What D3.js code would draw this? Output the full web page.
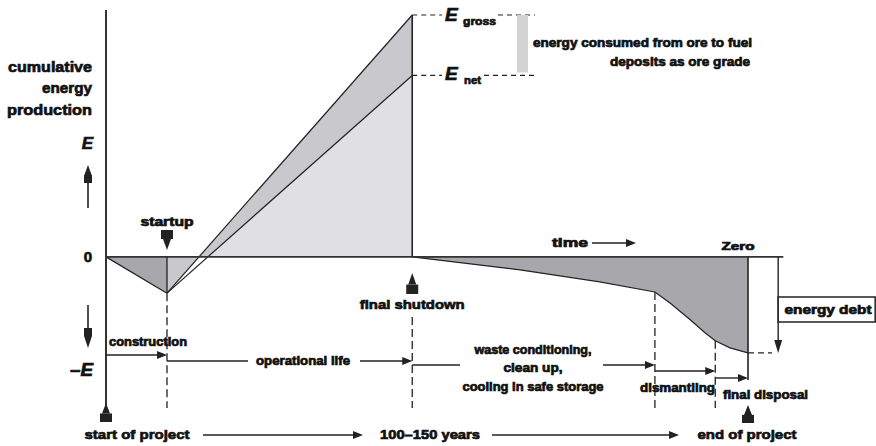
<!DOCTYPE html>
<html>
<head>
<meta charset="utf-8">
<script src="https://cdn.jsdelivr.net/npm/d3@7"></script>
<style>
  body { margin: 0; background: #fff; }
  svg text { font-family: "Liberation Sans", Arial, sans-serif; font-weight: bold; fill: #111; }
</style>
</head>
<body>
<div id="chart"></div>
<script>
// project phases (time in % of project life)
const phaseNames = ["start of project", "startup", "final shutdown", "dismantling", "final disposal", "end of project"];
const phaseTimes = [0, 9.5, 47.7, 85.5, 94.9, 100];

// construction: energy invested before startup
const constructionTimes = [0, 9.5];
const constructionE = [0, -15];

// operational life: gross and net cumulative energy
const operationTimes = [9.5, 47.7];
const grossE = [-15, 100];
const netE = [-15, 75];

// after shutdown: waste handling, dismantling, disposal
const debtTimes = [47.7, 64.5, 76.9, 85.5, 87.9, 91.0, 93.3, 94.9, 97.2, 100];
const debtE = [0, -5.4, -10.3, -14.5, -19.2, -26, -31.4, -34.7, -37.6, -39.7];

const zeroLineEnd = 105.5;
const debtMarker = 104.7;

const W = 876, H = 446;
const svg = d3.select("#chart").append("svg").attr("width", W).attr("height", H);

const x = d3.scaleLinear().domain([0, 100]).range([106, 748]);
const y = d3.scaleLinear().domain([-60, 100]).range([402, 15]);

const INK = "#222";
const DARK = "#a8a8ac";   // construction / energy debt
const MID = "#c9c9cd";    // gross band
const LIGHT = "#e0e0e3";  // net production

const zip = (ts, es) => ts.map((t, i) => [t, es[i]]);

// clip for the part above zero
svg.append("clipPath").attr("id", "above")
    .append("rect").attr("x", 0).attr("y", 0).attr("width", W).attr("height", y(0));

const area = d3.area().x(d => x(d[0])).y0(y(0)).y1(d => y(d[1]));
const line = d3.line().x(d => x(d[0])).y(d => y(d[1]));

// construction triangle
svg.append("path")
    .datum(zip(constructionTimes, constructionE))
    .attr("d", area).attr("fill", DARK);

// gross area (also covers the small triangle below zero after startup)
svg.append("path")
    .datum(zip(operationTimes, grossE))
    .attr("d", area).attr("fill", MID);

// net area above zero
svg.append("path")
    .datum(zip(operationTimes, netE))
    .attr("d", area).attr("fill", LIGHT)
    .attr("clip-path", "url(#above)");

// energy debt area
svg.append("path")
    .datum(zip(debtTimes, debtE))
    .attr("d", area).attr("fill", DARK);

// outlines
[zip(constructionTimes, constructionE), zip(operationTimes, grossE),
 zip(operationTimes, netE), zip(debtTimes, debtE)].forEach(pts => {
    svg.append("path").datum(pts).attr("d", line)
        .attr("fill", "none").attr("stroke", INK).attr("stroke-width", 1.2);
});

function seg(x1, y1, x2, y2, opts = {}) {
    return svg.append("line")
        .attr("x1", x1).attr("y1", y1).attr("x2", x2).attr("y2", y2)
        .attr("stroke", opts.color || INK)
        .attr("stroke-width", opts.w || 1.4)
        .attr("stroke-dasharray", opts.dash || null);
}

// arrow head pointing right with tip at (px, py)
function headRight(px, py) {
    svg.append("path")
        .attr("d", `M${px},${py} L${px - 10},${py - 4} L${px - 10},${py + 4} Z`)
        .attr("fill", INK);
}
// small "tower" marker pointing up (tip at top)
function markerUp(px, top, h) {
    const t = h * 0.55;
    svg.append("path")
        .attr("d", `M${px},${top} L${px - 4},${top + t} L${px + 4},${top + t} Z`)
        .attr("fill", INK);
    svg.append("rect").attr("x", px - 6).attr("y", top + t).attr("width", 12).attr("height", h - t).attr("fill", INK);
}
function markerDown(px, bottom, h) {
    const t = h * 0.55;
    svg.append("path")
        .attr("d", `M${px},${bottom} L${px - 4},${bottom - t} L${px + 4},${bottom - t} Z`)
        .attr("fill", INK);
    svg.append("rect").attr("x", px - 6).attr("y", bottom - h).attr("width", 12).attr("height", h - t).attr("fill", INK);
}

// vertical axis and zero line
seg(x(0), 10, x(0), 405, { w: 2, color: "#333" });
seg(x(0), y(0), x(zeroLineEnd), y(0), { w: 1.6, color: "#333" });

// solid verticals
seg(x(phaseTimes[1]), y(0), x(phaseTimes[1]), y(constructionE[1]), { w: 1.3 });
seg(x(phaseTimes[2]), y(grossE[1]), x(phaseTimes[2]), y(0), { w: 1.6 });
seg(x(phaseTimes[5]), y(0), x(phaseTimes[5]), 380, { w: 1.6 });

// dashed phase boundaries
const dash = "8,4";
seg(x(phaseTimes[1]), y(constructionE[1]), x(phaseTimes[1]), 408, { dash, w: 1.3 });
seg(x(phaseTimes[2]), 317, x(phaseTimes[2]), 408, { dash, w: 1.3 });
seg(x(phaseTimes[3]), y(debtE[3]), x(phaseTimes[3]), 408, { dash, w: 1.3 });
seg(x(phaseTimes[4]), y(debtE[7]), x(phaseTimes[4]), 408, { dash, w: 1.3 });

// E gross / E net reference lines
seg(x(phaseTimes[2]), y(grossE[1]), 442, y(grossE[1]), { dash: "5,4", w: 1.2 });
seg(498, y(grossE[1]), 535, y(grossE[1]), { dash: "5,4", w: 1.2 });
seg(x(phaseTimes[2]), y(netE[1]), 442, y(netE[1]), { dash: "5,4", w: 1.2 });
seg(484, y(netE[1]), 535, y(netE[1]), { dash: "5,4", w: 1.2 });
svg.append("rect").attr("x", 517).attr("y", y(grossE[1])).attr("width", 11)
    .attr("height", y(netE[1]) - y(grossE[1]) - 3).attr("fill", "#d2d2d4");

// phase arrows
seg(x(phaseTimes[0]), 355, x(phaseTimes[1]) - 2, 355); headRight(x(phaseTimes[1]), 355);
seg(x(phaseTimes[1]), 361, 248, 361); seg(360, 361, x(phaseTimes[2]) - 2, 361); headRight(x(phaseTimes[2]), 361);
seg(x(phaseTimes[2]), 365, 460, 365); seg(603, 365, x(phaseTimes[3]) - 2, 365); headRight(x(phaseTimes[3]), 365);
seg(x(phaseTimes[3]), 371, x(phaseTimes[4]) - 2, 371); headRight(x(phaseTimes[4]), 371);
seg(x(phaseTimes[4]), 378, x(phaseTimes[5]) - 2, 378); headRight(x(phaseTimes[5]), 378);

// bottom time arrows
seg(203, 435, 360, 435); headRight(363, 435);
seg(492, 435, 676, 435); headRight(679, 435);

// time arrow
seg(592, 243, 630, 243); headRight(636, 243);

// markers
markerUp(x(phaseTimes[0]), 403, 19);
markerUp(x(phaseTimes[2]), 273, 21);
markerUp(x(phaseTimes[5]), 405, 18);
markerDown(x(phaseTimes[1]), 250, 20);

// E axis arrows
seg(88, 183, 88, 208, { w: 1.6 });
svg.append("path").attr("d", "M88,165 L84,176 L92,176 Z").attr("fill", INK);
svg.append("rect").attr("x", 84).attr("y", 175).attr("width", 8).attr("height", 8).attr("fill", INK);
seg(88, 305, 88, 330, { w: 1.6 });
svg.append("rect").attr("x", 84).attr("y", 328).attr("width", 8).attr("height", 8).attr("fill", INK);
svg.append("path").attr("d", "M88,348 L84,336 L92,336 Z").attr("fill", INK);

// energy debt bracket
seg(x(phaseTimes[5]), y(debtE[debtE.length - 1]), 772, y(debtE[debtE.length - 1]), { dash: "6,4", w: 1.3 });
seg(x(debtMarker), y(0), x(debtMarker), 342, { w: 1.4 });
svg.append("path").attr("d", `M${x(debtMarker)},${y(debtE[debtE.length - 1])} L${x(debtMarker) - 4},340 L${x(debtMarker) + 4},340 Z`).attr("fill", INK);
svg.append("rect").attr("x", x(debtMarker)).attr("y", 297).attr("width", 97).attr("height", 25)
    .attr("fill", "#fff").attr("stroke", INK).attr("stroke-width", 1.5);

// text labels
function label(txt, px, cy, size, len, anchor = "middle", style = {}) {
    const t = svg.append("text")
        .attr("x", px).attr("y", cy + size * 0.32)
        .attr("text-anchor", anchor)
        .attr("font-size", size)
        .attr("stroke", "#111").attr("stroke-width", 0.7)
        .text(txt);
    if (len) t.attr("textLength", len).attr("lengthAdjust", "spacingAndGlyphs");
    if (style.italic) t.attr("font-style", "italic");
    return t;
}

label("cumulative", 92, 67, 15, 84, "end");
label("energy", 92, 88, 15, 50, "end");
label("production", 92, 110, 15, 85, "end");
label("E", 93, 144, 17, null, "end", { italic: true });
label("0", 92, 257, 15, null, "end");
label("\u2013E", 93, 370, 18, 23, "end", { italic: true });

label(phaseNames[1], x(phaseTimes[1]), 222, 12, 53);
label(phaseNames[2], x(phaseTimes[2]), 305, 13, 105);
label("construction", 148, 342, 12, 78);
label("operational life", 303, 361, 12, 94);
label("waste conditioning,", 533, 350, 12, 117);
label("clean up,", 533, 368, 12, 59);
label("cooling in safe storage", 533, 387, 12, 141);
label(phaseNames[3], 715, 388, 12, 75, "end");
label(phaseNames[4], 723, 395, 12, 85, "start");
label(phaseNames[0], 137, 435, 13, 105);
label("100\u2013150 years", 430, 435, 13, 100);
label(phaseNames[5], 747, 435, 13, 99);
label("time", 570, 243, 12, 36);
label("Zero", 738, 247, 10, 33);
label("energy debt", 828, 310, 12, 87);
label("energy consumed from ore to fuel", 752, 43, 12, 219, "end");
label("deposits as ore grade", 750, 62, 12, 140, "end");

// E gross / E net symbols
label("E", 445, 15, 19, null, "start", { italic: true });
label("gross", 463, 21, 11, 33, "start");
label("E", 445, 74, 19, null, "start", { italic: true });
label("net", 464, 80, 11, 17, "start");
</script>
</body>
</html>
